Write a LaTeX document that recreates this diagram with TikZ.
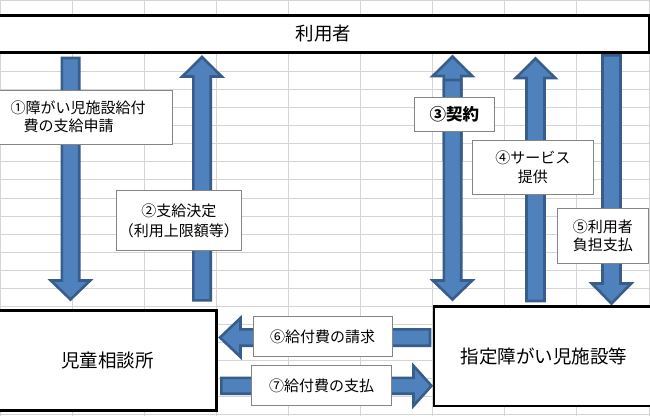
\documentclass[tikz,border=0pt]{standalone}
\usepackage{fontspec}
\newfontfamily\jp{Noto Sans CJK JP}
\definecolor{arrfill}{HTML}{4F81BD}
\definecolor{arredge}{HTML}{385D8A}
\definecolor{gridc}{HTML}{D4D4D4}
\definecolor{lbledge}{HTML}{858585}
\tikzset{
  gridline/.style={draw=gridc, line width=1bp},
  blockarrow/.style={fill=arrfill, draw=arredge, line width=2.6bp},
  bigbox/.style={draw=black, line width=2.6bp, fill=white, rectangle, inner sep=0pt, anchor=north west,
    font=\jp\fontsize{18.5bp}{22bp}\selectfont},
  lblbox/.style={draw=lbledge, line width=1.1bp, fill=white, rectangle, inner sep=0pt, anchor=north west,
    align=center, font=\jp\fontsize{15bp}{19bp}\selectfont},
}
% block arrows: centre, ends, half shaft, half head, head length
\newcommand\blkdown[6]{\draw[blockarrow] ({#1-#4},#2) -- ({#1+#4},#2) -- ({#1+#4},{#3-#6}) -- ({#1+#5},{#3-#6}) -- (#1,#3) -- ({#1-#5},{#3-#6}) -- ({#1-#4},{#3-#6}) -- cycle;}
\newcommand\blkup[6]{\draw[blockarrow] (#1,#2) -- ({#1+#5},{#2+#6}) -- ({#1+#4},{#2+#6}) -- ({#1+#4},#3) -- ({#1-#4},#3) -- ({#1-#4},{#2+#6}) -- ({#1-#5},{#2+#6}) -- cycle;}
\newcommand\blkleft[6]{\draw[blockarrow] (#2,#1) -- ({#2+#6},{#1-#5}) -- ({#2+#6},{#1-#4}) -- (#3,{#1-#4}) -- (#3,{#1+#4}) -- ({#2+#6},{#1+#4}) -- ({#2+#6},{#1+#5}) -- cycle;}
\newcommand\blkright[6]{\draw[blockarrow] (#2,{#1-#4}) -- ({#3-#6},{#1-#4}) -- ({#3-#6},{#1-#5}) -- (#3,#1) -- ({#3-#6},{#1+#5}) -- ({#3-#6},{#1+#4}) -- (#2,{#1+#4}) -- cycle;}
\begin{document}
\begin{tikzpicture}[x=1bp, y=-1bp]
\useasboundingbox (0,0) rectangle (650,416);
\fill[white] (0,0) rectangle (650,416);
% spreadsheet grid
\foreach \gx in {0.7,72.7,144.6,216.6,288.6,360.6,432.6,504.9,576.9,649.2}
  \draw[gridline] (\gx,0) -- (\gx,416);
\draw[gridline] (0,0.7) -- (650,0.7);
\foreach \k in {-2,...,20}
  \draw[gridline] (0,{53.5+18.07*\k}) -- (650,{53.5+18.07*\k});
% block arrows
\blkdown{70.5}{58}{299.5}{8.7}{19.7}{19}
\blkup{202}{57}{300.4}{8.7}{19.7}{19.5}
\blkup{452.5}{56.5}{160}{8.7}{19.7}{19.5}
\blkdown{452.5}{80}{299.5}{8.7}{19.7}{19}
\blkup{535.5}{58.5}{301}{9}{19.7}{19.5}
\blkdown{611.5}{55.3}{303.5}{9}{19.7}{20}
\blkleft{337.5}{220}{430}{8.2}{19.5}{20.5}
\blkright{385.8}{221.3}{431.5}{7.9}{20}{18}
% main boxes
\node[bigbox, minimum width=650.7bp, minimum height=36.8bp] (user) at (-3,14.2) {利用者};
\node[bigbox, minimum width=218bp, minimum height=100bp] (jido) at (-3,309.3) {児童相談所};
\node[bigbox, minimum width=220bp, minimum height=99.5bp] (shisetsu) at (432.7,305) {指定障がい児施設等};
% label boxes
\node[lblbox, minimum width=174bp, minimum height=54bp, text width=150bp, align=left, inner xsep=12bp, font=\jp\fontsize{15bp}{18bp}\selectfont]
  (l1) at (-2,89.5) {①障がい児施設給付\\\hspace*{13bp}費の支給申請};
\node[lblbox, minimum width=124.5bp, minimum height=60bp, font=\jp\fontsize{15bp}{20bp}\selectfont]
  (l2) at (116,190) {②支給決定\\（利用上限額等）};
\node[lblbox, minimum width=80.5bp, minimum height=34bp, font=\jp\bfseries\fontsize{16.5bp}{19bp}\selectfont]
  (l3) at (413.5,97) {③契約};
\node[lblbox, minimum width=121.5bp, minimum height=54bp] (l4) at (471.5,140) {④サービス\\提供};
\node[lblbox, minimum width=90.5bp, minimum height=55bp, font=\jp\fontsize{15bp}{18.3bp}\selectfont]
  (l5) at (557,207.5) {⑤利用者\\負担支払};
\node[lblbox, minimum width=139bp, minimum height=40bp] (l6) at (252.5,316) {⑥給付費の請求};
\node[lblbox, minimum width=140bp, minimum height=40.5bp] (l7) at (251,364.5) {⑦給付費の支払};
\end{tikzpicture}
\end{document}
